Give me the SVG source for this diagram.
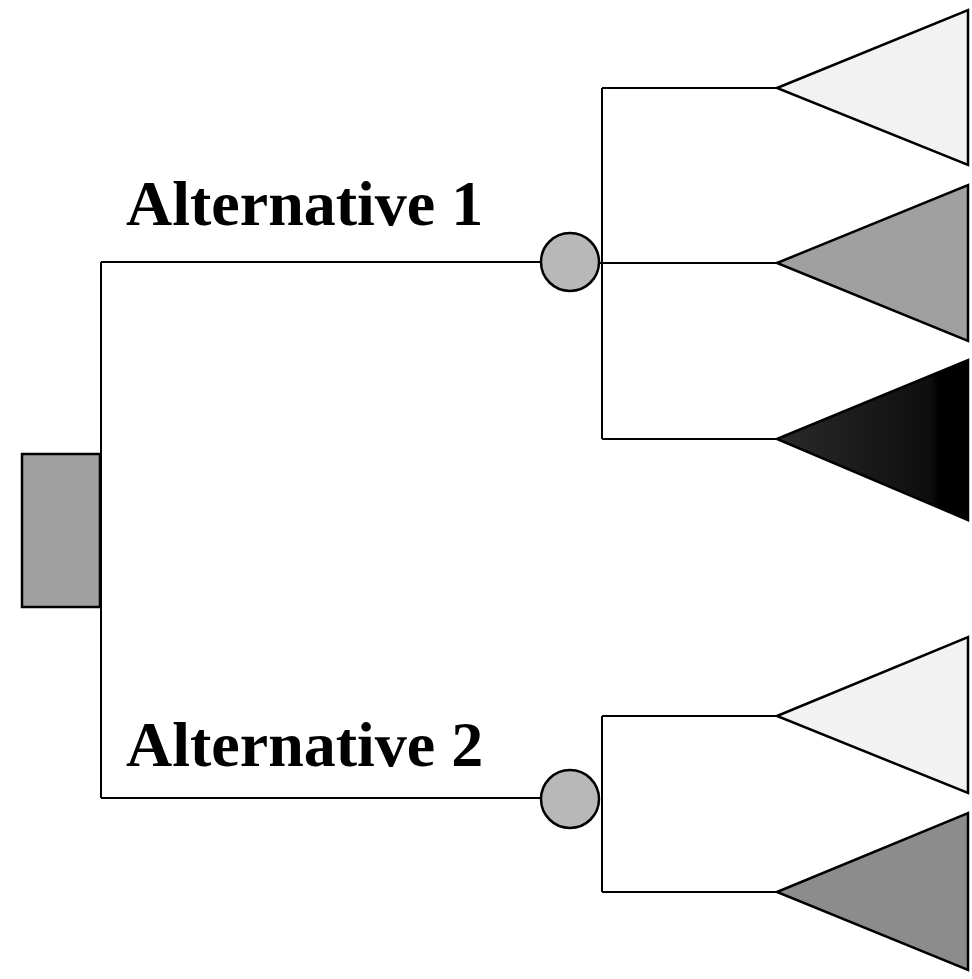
<svg xmlns="http://www.w3.org/2000/svg" width="972" height="979" viewBox="0 0 972 979">
<style>
.ln{fill:none;stroke:#000;stroke-width:2}
.sh{stroke:#000;stroke-width:2.5;stroke-linejoin:miter}
.lbl{font-family:"Liberation Serif","Times New Roman",serif;font-weight:bold;font-size:64px;fill:#000}
</style>
<defs>
<linearGradient id="dk" x1="0" y1="0" x2="1" y2="0">
<stop offset="0" stop-color="#2a2a2a"/>
<stop offset="0.8" stop-color="#0e0e0e"/>
<stop offset="0.85" stop-color="#000"/>
<stop offset="1" stop-color="#000"/>
</linearGradient>
</defs>
<rect width="972" height="979" fill="#fff"/>
<g id="connectors">
<path class="ln" d="M101,262 V798 M101,262 H541 M101,798 H541"/>
<path class="ln" d="M602,88 V439 M602,88 H777 M599,263 H777 M602,439 H777"/>
<path class="ln" d="M602,716 V892 M602,716 H777 M602,892 H777"/>
</g>
<g id="decision"><rect class="sh" x="22" y="454" width="78" height="153" fill="#a0a0a0"/></g>
<g id="chance1"><circle class="sh" cx="570" cy="262" r="29" fill="#b8b8b8"/></g>
<g id="chance2"><circle class="sh" cx="570" cy="799" r="29" fill="#b8b8b8"/></g>
<g id="out1"><polygon class="sh" points="777,88 968,10 968,165" fill="#f2f2f2"/></g>
<g id="out2"><polygon class="sh" points="777,263 968,185 968,341" fill="#a0a0a0"/></g>
<g id="out3"><polygon class="sh" points="777,439 968,360 968,520" fill="url(#dk)"/></g>
<g id="out4"><polygon class="sh" points="777,716 968,637 968,793" fill="#f2f2f2"/></g>
<g id="out5"><polygon class="sh" points="777,892 968,813 968,970" fill="#8c8c8c"/></g>
<g id="labels">
<text class="lbl" x="126" y="225">Alternative 1</text>
<text class="lbl" x="126" y="766">Alternative 2</text>
</g>
</svg>
